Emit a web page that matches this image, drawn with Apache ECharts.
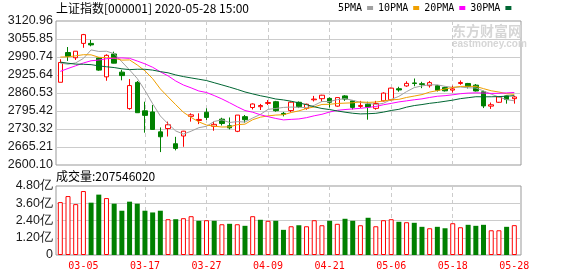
<!DOCTYPE html>
<html><head><meta charset="utf-8">
<script src="https://cdn.jsdelivr.net/npm/echarts@6/dist/echarts.min.js"></script>
<style>html,body{margin:0;padding:0;background:#fff}#c{width:578px;height:276px}</style>
</head><body><div id="c"></div>
<script>
const dates = ['03-02','03-03','03-04','03-05','03-06','03-09','03-10','03-11','03-12','03-13','03-16','03-17','03-18','03-19','03-20','03-23','03-24','03-25','03-26','03-27','03-30','03-31','04-01','04-02','04-03','04-07','04-08','04-09','04-10','04-13','04-14','04-15','04-16','04-17','04-20','04-21','04-22','04-23','04-24','04-27','04-28','04-29','04-30','05-06','05-07','05-08','05-11','05-12','05-13','05-14','05-15','05-18','05-19','05-20','05-21','05-22','05-25','05-26','05-27','05-28'];
const opens = [2899.31,3006.89,2988.00,3040.00,3039.94,2987.18,2918.93,3001.76,2936.02,2804.23,
2899.00,2796.00,2792.00,2720.00,2732.00,2677.00,2705.00,2776.00,2761.00,2791.00,
2740.00,2766.00,2742.00,2722.00,2775.00,2808.00,2811.00,2823.00,2829.00,2787.00,
2797.00,2827.00,2805.00,2836.00,2840.00,2841.00,2813.00,2850.00,2832.00,2812.00,
2820.00,2805.00,2832.00,2836.00,2876.00,2886.00,2897.00,2894.00,2887.00,2887.00,
2880.00,2871.00,2895.00,2895.00,2889.00,2865.00,2813.00,2827.00,2850.00,2840.00];
const closes = [2970.93,2992.90,3011.67,3071.68,3034.51,2943.29,2996.76,2968.52,2923.49,2887.43,
2789.25,2779.64,2728.76,2702.13,2745.62,2660.17,2722.44,2781.59,2764.91,2772.20,
2747.21,2750.30,2734.52,2780.64,2763.99,2820.76,2815.37,2825.90,2796.63,2783.05,
2827.28,2811.17,2819.94,2838.50,2852.55,2827.01,2843.98,2838.50,2808.53,2815.49,
2810.02,2822.44,2860.08,2878.14,2871.52,2895.34,2894.80,2891.56,2898.05,2870.34,
2868.46,2875.42,2898.58,2883.74,2867.92,2813.77,2817.97,2846.55,2836.80,2846.22];
const lows = [2899.31,2976.61,2980.00,3024.00,3029.45,2940.71,2904.80,2968.00,2906.28,2799.98,
2789.00,2717.00,2727.00,2646.80,2703.00,2653.00,2666.00,2757.00,2748.00,2763.00,
2724.00,2743.00,2729.00,2719.00,2753.00,2801.00,2799.00,2817.00,2793.00,2776.00,
2791.00,2806.00,2800.00,2830.00,2829.00,2808.00,2811.00,2832.00,2801.00,2806.00,
2764.00,2800.00,2830.00,2833.00,2865.00,2883.00,2885.00,2878.00,2880.00,2866.00,
2866.00,2862.00,2890.00,2877.00,2866.00,2806.00,2803.00,2825.00,2822.00,2822.00];
const highs = [2982.51,3026.84,3012.00,3074.26,3052.44,2989.20,3000.50,3010.03,2944.47,2910.88,
2904.00,2829.00,2817.00,2736.00,2757.00,2702.00,2723.50,2787.00,2787.00,2805.00,
2757.00,2771.00,2772.00,2781.00,2781.00,2823.00,2821.00,2835.00,2832.00,2792.00,
2830.00,2830.00,2822.00,2850.00,2854.00,2845.00,2844.00,2853.00,2833.00,2832.00,
2829.00,2832.00,2863.00,2880.00,2883.00,2903.00,2913.00,2901.00,2904.00,2890.00,
2883.00,2887.00,2906.00,2897.00,2893.00,2869.00,2826.00,2848.00,2851.00,2850.00];
const volumes = [368000000,410000000,354000000,445000000,364000000,420000000,396000000,357000000,308000000,371000000,
357000000,308000000,296000000,308000000,249000000,249000000,256000000,270000000,238000000,242000000,
238000000,214000000,217000000,214000000,203000000,270000000,245000000,238000000,238000000,175000000,
200000000,207000000,200000000,242000000,207000000,238000000,217000000,252000000,238000000,207000000,
259000000,200000000,242000000,249000000,231000000,228000000,224000000,196000000,186000000,196000000,
186000000,221000000,193000000,210000000,203000000,210000000,172000000,172000000,196000000,207546020];
const prevClose = 2880.30;
const ma5 = [2968.71,2964.68,2969.43,2985.50,3016.34,3010.81,3011.58,3002.95,2973.31,2943.90,
2913.09,2869.67,2821.71,2777.44,2749.08,2723.26,2711.82,2722.39,2734.95,2740.26,
2757.67,2763.24,2753.83,2756.97,2755.33,2770.04,2783.06,2801.33,2804.53,2808.34,
2809.65,2808.81,2807.61,2815.99,2829.89,2829.83,2836.40,2840.11,2834.11,2826.70,
2823.30,2819.00,2823.31,2837.23,2848.44,2865.50,2879.98,2886.27,2890.25,2890.02,
2884.64,2880.77,2882.17,2879.31,2878.82,2867.89,2856.40,2845.99,2836.60,2832.26];
const ma10 = [2990.50,2991.29,2994.92,2999.07,2998.55,2989.76,2988.13,2986.19,2979.41,2980.12,
2961.95,2940.62,2912.33,2875.38,2846.49,2818.18,2790.75,2772.05,2756.19,2744.67,
2740.47,2737.53,2738.11,2745.96,2747.80,2763.86,2773.15,2777.58,2780.75,2781.84,
2789.84,2795.93,2804.47,2810.26,2819.12,2819.74,2822.60,2823.86,2825.05,2828.30,
2826.57,2827.70,2831.71,2835.67,2837.57,2844.40,2849.49,2854.79,2863.74,2869.23,
2875.07,2880.37,2884.22,2884.78,2884.42,2876.26,2868.58,2864.08,2857.96,2855.54];
const ma20 = [2938.73,2949.21,2958.89,2969.15,2977.07,2979.71,2984.47,2986.55,2987.42,2985.94,
2976.22,2965.96,2953.62,2937.22,2922.52,2903.97,2889.44,2879.12,2867.80,2862.39,
2851.21,2839.08,2825.22,2810.67,2797.14,2791.02,2781.95,2774.82,2768.47,2763.25,
2765.16,2766.73,2771.29,2778.11,2783.46,2791.80,2797.88,2800.72,2802.90,2805.07,
2808.21,2811.81,2818.09,2822.97,2828.34,2832.07,2836.04,2839.33,2844.40,2848.76,
2850.82,2854.03,2857.97,2860.23,2861.00,2860.33,2859.03,2859.44,2860.85,2862.39];
const ma30 = [2972.28,2968.19,2965.02,2964.41,2963.09,2958.68,2955.38,2952.59,2948.02,2945.05,
2946.47,2946.35,2943.37,2937.89,2933.55,2925.87,2919.89,2915.05,2910.35,2905.52,
2897.64,2889.82,2881.79,2873.47,2864.28,2857.26,2850.67,2845.27,2838.78,2835.54,
2830.75,2824.70,2818.31,2810.53,2804.47,2800.59,2795.50,2791.16,2787.33,2784.93,
2785.63,2787.05,2791.43,2797.30,2801.49,2809.33,2815.08,2818.74,2823.18,2826.45,
2830.50,2834.67,2840.13,2843.57,2847.04,2846.80,2846.89,2847.58,2848.92,2851.02];
const priceTicks = [2600.10,2665.21,2730.32,2795.42,2860.53,2925.64,2990.74,3055.85,3120.96];
const labelIdx = [3,11,19,27,35,43,51,59];
const titleText = '上证指数[000001] 2020-05-28 15:00';
const maNames = ['5PMA','10PMA','20PMA','30PMA'];
const maColors = ['#a0a0a0','#f0a000','#ff00ff','#006633'];

const UP = '#ff0000', DOWN = '#008000';
const chart = echarts.init(document.getElementById('c'));
const candleData = dates.map((d, i) => [i, opens[i], closes[i], lows[i], highs[i]]);
const volData = volumes.map((v, i) => {
  const up = closes[i] >= (i ? closes[i - 1] : prevClose);
  return { value: [i, v], itemStyle: up ? { color: '#fff', borderColor: UP, borderWidth: 1 } : { color: DOWN, borderColor: DOWN, borderWidth: 0 } };
});
const maSeries = [ma5, ma10, ma20, ma30].map((arr, k) => ({
  name: maNames[k], type: 'line', xAxisIndex: 0, yAxisIndex: 0,
  data: arr.map((v, i) => [i, v]), showSymbol: false, symbol: 'none', z: 3,
  lineStyle: { width: 1, color: maColors[k] }, itemStyle: { color: maColors[k] }
}));
const xBase = (g) => ({
  type: 'value', gridIndex: g, min: -0.56, max: 59.87,
  axisLine: { show: false },
  axisTick: { show: false, customValues: labelIdx },
  splitLine: { show: true, showMinLine: false, showMaxLine: false, lineStyle: { color: '#cccccc', type: [4, 3], width: 1 } }
});
const x0 = xBase(0); x0.axisLabel = { show: false, customValues: labelIdx };
const x1 = xBase(1); x1.axisLabel = {
  show: true, customValues: labelIdx, color: '#ff0000', fontFamily: 'DejaVu Sans Mono', fontSize: 10, margin: 6,
  formatter: v => dates[Math.round(v)] || ''
};
const option = {
  animation: false,
  backgroundColor: '#fff',
  title: [
    { text: titleText, left: 56, top: 2, padding: 0, textStyle: { fontSize: 12, fontWeight: 'normal', color: '#000', fontFamily: 'Noto Sans CJK SC' } },
    { text: '成交量:' + volumes[volumes.length - 1], left: 56, top: 170, padding: 0, textStyle: { fontSize: 12, fontWeight: 'normal', color: '#000', fontFamily: 'Noto Sans CJK SC' } }
  ],
  legend: {
    data: maNames, left: 338, top: 3, padding: 0, itemGap: 5, itemWidth: 6, itemHeight: 4,
    icon: 'rect', align: 'right', selectedMode: false,
    textStyle: { fontFamily: 'DejaVu Sans Mono', fontSize: 10, color: '#000' }
  },
  graphic: [
    { type: 'text', left: 452, top: 24, z: 0, style: { text: '东方财富网', font: 'bold 14px "Noto Sans CJK SC"', fill: '#d6d6d6' } },
    { type: 'text', left: 452, top: 39, z: 0, style: { text: 'eastmoney.com', font: 'bold 10px "Liberation Sans"', fill: '#d6d6d6' } }
  ],
  grid: [
    { left: 56, top: 21, width: 465, height: 144, show: true, borderColor: '#999', borderWidth: 1, backgroundColor: 'transparent' },
    { left: 56, top: 186, width: 465, height: 69, show: true, borderColor: '#999', borderWidth: 1, backgroundColor: 'transparent' }
  ],
  xAxis: [x0, x1],
  yAxis: [
    {
      type: 'value', gridIndex: 0, min: 2600.10, max: 3120.96, scale: true,
      axisLine: { show: false }, axisTick: { show: false, customValues: priceTicks },
      axisLabel: { customValues: priceTicks, formatter: v => v.toFixed(2), color: '#1a1a1a', fontFamily: 'Liberation Sans', fontSize: 12.5, margin: 3 },
      splitLine: { show: true, showMinLine: false, showMaxLine: false, lineStyle: { color: '#cccccc', width: 1 } }
    },
    {
      type: 'value', gridIndex: 1, min: 0, max: 480000000, interval: 120000000,
      axisLine: { show: false }, axisTick: { show: false },
      axisLabel: { formatter: v => v === 0 ? '0' : (v / 1e8).toFixed(2) + '亿', color: '#1a1a1a', fontFamily: 'Liberation Sans', fontSize: 12.5, margin: 3, showMinLabel: true, showMaxLabel: true },
      splitLine: { show: true, showMinLine: false, showMaxLine: false, lineStyle: { color: '#cccccc', width: 1 } }
    }
  ],
  series: [
    {
      name: 'K', type: 'candlestick', xAxisIndex: 0, yAxisIndex: 0, data: candleData, barWidth: 5, z: 2,
      encode: { x: 0, y: [1, 2, 3, 4] },
      itemStyle: { color: '#fff', color0: DOWN, borderColor: UP, borderColor0: DOWN, borderWidth: 1 }
    },
    ...maSeries,
    { name: 'VOL', type: 'bar', xAxisIndex: 1, yAxisIndex: 1, data: volData, barWidth: 5, z: 2 }
  ]
};
chart.setOption(option);
</script></body></html>
